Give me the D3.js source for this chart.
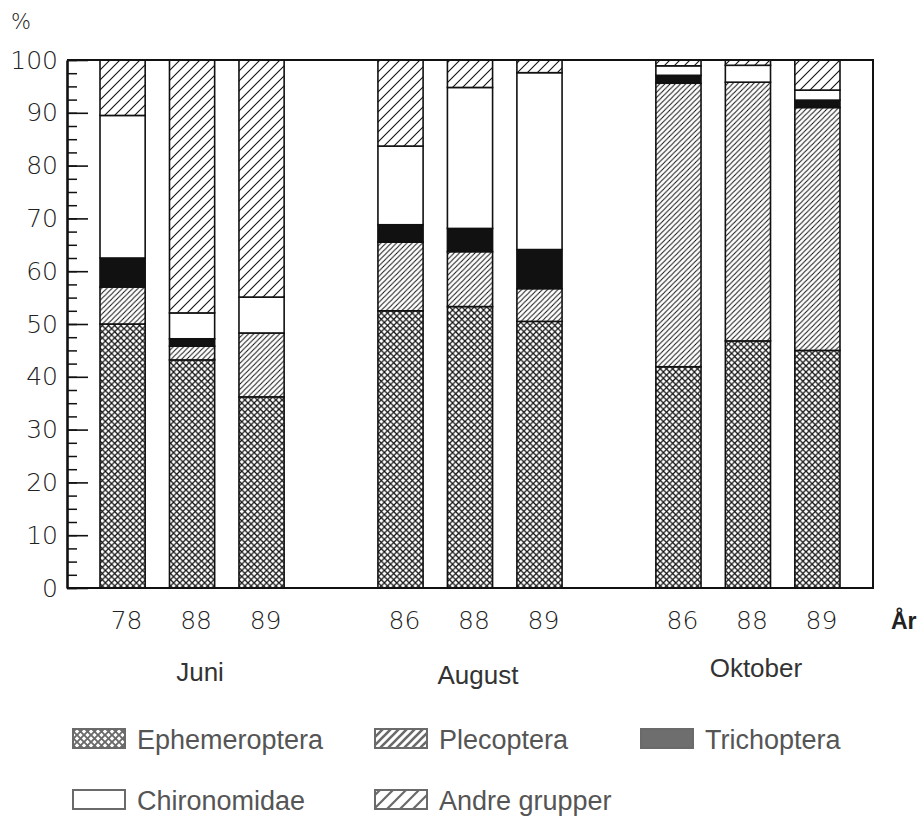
<!DOCTYPE html>
<html><head><meta charset="utf-8">
<script src="https://cdn.jsdelivr.net/npm/d3@7"></script>
<style>body{margin:0;background:#fff}</style>
</head><body><svg id="c" width="922" height="820"></svg>
<script>
// ---- data ----
const months = ["Juni", "August", "Oktober"];
const yearsJuni = ["78", "88", "89"];
const yearsAugust = ["86", "88", "89"];
const yearsOktober = ["86", "88", "89"];
const seriesNames = ["Ephemeroptera", "Plecoptera", "Trichoptera", "Chironomidae", "Andre grupper"];
const ephemeroptera = [50, 43.2, 36.2, 52.5, 53.3, 50.5, 41.9, 46.8, 45];
const plecoptera    = [7, 2.6, 12.1, 13, 10.4, 6.2, 53.7, 49, 46];
const trichoptera   = [5.5, 1.4, 0, 3.3, 4.4, 7.4, 1.5, 0, 1.4];
const chironomidae  = [27, 4.9, 6.8, 14.9, 26.7, 33.5, 1.8, 3.2, 1.9];
const andreGrupper  = [10.5, 47.9, 44.9, 16.3, 5.2, 2.4, 1.1, 1.0, 5.7];
const yTickValues = [0, 10, 20, 30, 40, 50, 60, 70, 80, 90, 100];
const unitLabel = "%";
const yearAxisLabel = "År";

// ---- build table ----
const seriesValues = [ephemeroptera, plecoptera, trichoptera, chironomidae, andreGrupper];
const yearsByMonth = [yearsJuni, yearsAugust, yearsOktober];
const rows = [];
yearsByMonth.forEach((ys, gi) => ys.forEach((yr, j) => {
  const i = rows.length;
  const r = {month: months[gi], year: yr, slot: gi * 4 + j, group: gi};
  seriesNames.forEach((s, k) => r[s] = seriesValues[k][i]);
  rows.push(r);
}));

const svg = d3.select("#c");
svg.append("rect").attr("width", 922).attr("height", 820).attr("fill", "#fff");

const L = 67, R = 873, T = 60, B = 588;
const y = d3.scaleLinear().domain([0, 100]).range([B, T]);
const x = d3.scaleBand().domain(d3.range(11)).range([L, R]).paddingInner(0.35).paddingOuter(0.475);

// ---- patterns ----
const defs = svg.append("defs");
function hatch(id, s, color, w) {
  const p = defs.append("pattern").attr("id", id).attr("patternUnits", "userSpaceOnUse")
    .attr("width", s).attr("height", s);
  p.append("rect").attr("width", s).attr("height", s).attr("fill", "#fff");
  p.append("path").attr("d", `M0,${s}L${s},0M-2,2L2,-2M${s-2},${s+2}L${s+2},${s-2}`)
    .attr("stroke", color).attr("stroke-width", w);
}
function cross(id, s, color, w) {
  const p = defs.append("pattern").attr("id", id).attr("patternUnits", "userSpaceOnUse")
    .attr("width", s).attr("height", s);
  p.append("rect").attr("width", s).attr("height", s).attr("fill", "#fff");
  p.append("path").attr("d", `M-1,-1L${s+1},${s+1}M${s+1},-1L-1,${s+1}`)
    .attr("stroke", color).attr("stroke-width", w);
}
cross("pE", 6.2, "#111", 1.25);
hatch("pP", 5.2, "#111", 1);
hatch("pA", 10, "#111", 1.1);
cross("lE", 7, "#6a6a6a", 1.9);
hatch("lP", 8, "#6a6a6a", 2.6);
hatch("lA", 13, "#6a6a6a", 2.2);

const fills = {"Ephemeroptera": "url(#pE)", "Plecoptera": "url(#pP)", "Trichoptera": "#111",
  "Chironomidae": "#fff", "Andre grupper": "url(#pA)"};
const legendFills = {"Ephemeroptera": "url(#lE)", "Plecoptera": "url(#lP)", "Trichoptera": "#6e6e6e",
  "Chironomidae": "#fff", "Andre grupper": "url(#lA)"};

// ---- bars ----
const stack = d3.stack().keys(seriesNames)(rows);
const gBars = svg.append("g");
stack.forEach(layer => {
  gBars.append("g").selectAll("rect")
    .data(layer.filter(d => d[1] - d[0] > 0))
    .join("rect")
    .attr("x", d => x(d.data.slot))
    .attr("width", x.bandwidth())
    .attr("y", d => y(d[1]))
    .attr("height", d => y(d[0]) - y(d[1]))
    .attr("fill", fills[layer.key])
    .attr("stroke", "#111").attr("stroke-width", 1.6);
});

// ---- frame ----
svg.append("path").attr("d", `M${L},${T}H${R}V${B}H${L}`).attr("fill", "none")
  .attr("stroke", "#111").attr("stroke-width", 2);

// ---- y axis ----
const font = "'DejaVu Sans', sans-serif";
const gMinor = svg.append("g").attr("transform", `translate(${L},0)`)
  .call(d3.axisLeft(y).tickValues(d3.range(0, 100.01, 2.5)).tickSize(-10).tickFormat("").tickSizeOuter(0));
gMinor.select(".domain").remove();
gMinor.selectAll("line").attr("stroke", "#111").attr("stroke-width", 1.5);
const gY = svg.append("g").attr("transform", `translate(${L},0)`)
  .call(d3.axisLeft(y).tickValues(yTickValues).tickSize(-21).tickPadding(9).tickSizeOuter(0));
gY.select(".domain").attr("stroke", "#111").attr("stroke-width", 2.6);
gY.selectAll("line").attr("stroke", "#111").attr("stroke-width", 1.6);
gY.selectAll("text").attr("font-family", font).attr("font-weight", 200).attr("font-size", 25).attr("fill", "#222");

svg.append("text").attr("x", 11).attr("y", 29).text(unitLabel)
  .attr("font-family", font).attr("font-weight", 200).attr("font-size", 21).attr("fill", "#222");

// ---- x axis labels ----
const yearBySlot = new Map(rows.map(r => [r.slot, r.year]));
const gX = svg.append("g").attr("transform", `translate(4,${B})`)
  .call(d3.axisBottom(x).tickValues(rows.map(r => r.slot)).tickFormat(s => yearBySlot.get(s)).tickSize(0).tickPadding(23));
gX.select(".domain").remove();
gX.selectAll("text").attr("font-family", font).attr("font-weight", 200).attr("font-size", 25).attr("fill", "#222");

svg.append("text").attr("x", 891).attr("y", 629).text(yearAxisLabel)
  .attr("font-family", "'Liberation Sans Narrow','Liberation Sans',sans-serif").attr("font-weight", "bold")
  .attr("font-size", 23).attr("fill", "#222");

// ---- month labels ----
const monthBase = [681, 684, 677];
svg.append("g").selectAll("text").data(months).join("text")
  .attr("x", (m, gi) => x(gi * 4 + 1) + x.bandwidth() / 2 + 8)
  .attr("y", (m, gi) => monthBase[gi])
  .attr("text-anchor", "middle")
  .attr("font-family", "'Liberation Sans',sans-serif").attr("font-size", 26).attr("fill", "#333")
  .text(m => m);

// ---- legend ----
const legendPos = [[73, 729], [375, 729], [641, 729], [73, 790], [375, 790]];
const gL = svg.append("g");
seriesNames.forEach((s, k) => {
  const [lx, ly] = legendPos[k];
  gL.append("rect").attr("x", lx).attr("y", ly).attr("width", 52).attr("height", 19)
    .attr("fill", legendFills[s]).attr("stroke", "#6a6a6a").attr("stroke-width", 2);
  gL.append("text").attr("x", lx + 64).attr("y", ly + 20).text(s)
    .attr("font-family", "'Liberation Sans',sans-serif").attr("font-size", 27).attr("fill", "#555");
});
</script></body></html>
